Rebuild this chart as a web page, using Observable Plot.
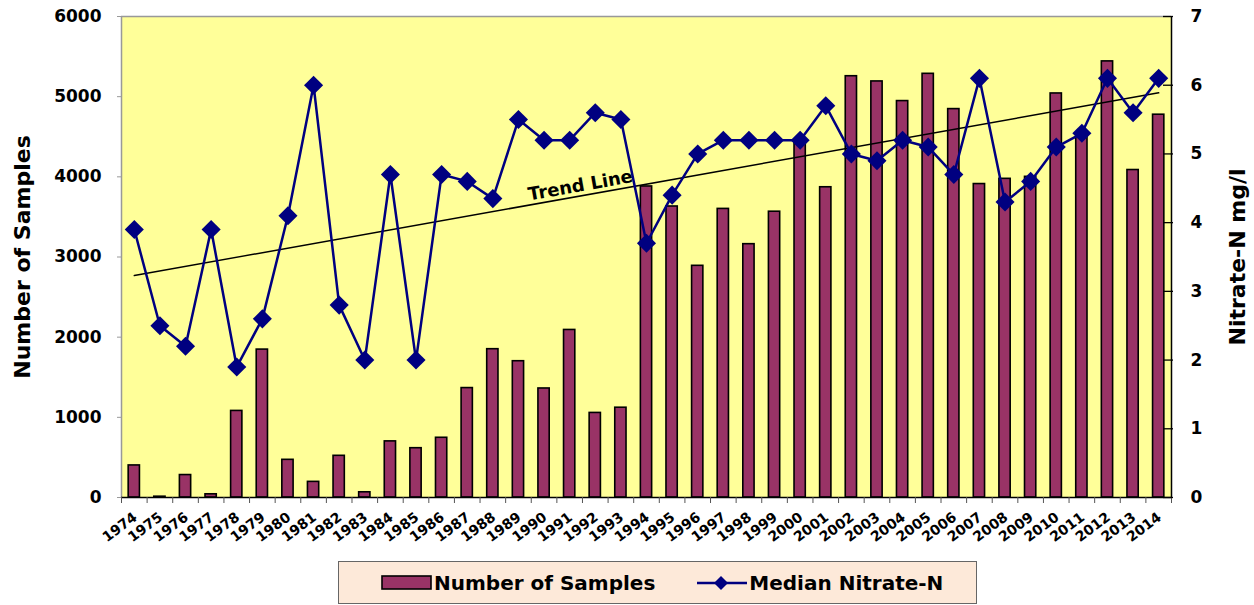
<!DOCTYPE html>
<html>
<head>
<meta charset="utf-8">
<script src="https://cdn.jsdelivr.net/npm/d3@7"></script>
<script src="https://cdn.jsdelivr.net/npm/@observablehq/plot@0.6"></script>
<style>
  html, body { margin: 0; padding: 0; background: white; }
  #wrap { position: relative; width: 1254px; height: 605px; }
  #legend {
    position: absolute; left: 338px; top: 561px; width: 637px; height: 41px;
    background: #FDE9D9; border: 1px solid #666;
    font-family: "DejaVu Sans", sans-serif; font-weight: bold; font-size: 20px; color: black;
    display: flex; align-items: center; box-sizing: content-box;
  }
  #legend svg { display: block; }
</style>
</head>
<body>
<div id="wrap">
  <div id="chart"></div>
  <div id="legend">
    <svg width="52" height="16" style="margin-left:42px"><rect x="1" y="1" width="49" height="13" fill="#993366" stroke="black" stroke-width="1.6"/></svg>
    <span style="margin-left:1px">Number of Samples</span>
    <svg width="50" height="16" style="margin-left:42px"><line x1="0" y1="8" x2="50" y2="8" stroke="#000080" stroke-width="2.5"/><path d="M24,1 L31,8 L24,15 L17,8 Z" fill="#000080"/></svg>
    <span style="margin-left:2px">Median Nitrate-N</span>
  </div>
</div>
<script>
// ---- data ----
const years = [1974, 1975, 1976, 1977, 1978, 1979, 1980, 1981, 1982, 1983,
               1984, 1985, 1986, 1987, 1988, 1989, 1990, 1991, 1992, 1993,
               1994, 1995, 1996, 1997, 1998, 1999, 2000, 2001, 2002, 2003,
               2004, 2005, 2006, 2007, 2008, 2009, 2010, 2011, 2012, 2013,
               2014];
const samples = [400, 10, 280, 40, 1080, 1845, 470, 195, 520, 65,
                 700, 615, 745, 1365, 1850, 1700, 1360, 2090, 1055, 1120,
                 3880, 3630, 2890, 3600, 3160, 3565, 4420, 3870, 5255, 5190,
                 4945, 5285, 4845, 3910, 3975, 4000, 5040, 4500, 5440, 4085,
                 4775];
const nitrate = [3.9, 2.5, 2.2, 3.9, 1.9, 2.6, 4.1, 6.0, 2.8, 2.0,
                 4.7, 2.0, 4.7, 4.6, 4.35, 5.5, 5.2, 5.2, 5.6, 5.5,
                 3.7, 4.4, 5.0, 5.2, 5.2, 5.2, 5.2, 5.7, 5.0, 4.9,
                 5.2, 5.1, 4.7, 6.1, 4.3, 4.6, 5.1, 5.3, 6.1, 5.6,
                 6.1];
const sampleTicks = [0, 1000, 2000, 3000, 4000, 5000, 6000];
const nitrateTicks = [0, 1, 2, 3, 4, 5, 6, 7];
const sampleMax = 6000;
const nitrateMax = 7;
const trendLabel = [{year: 1991.42, value: 4.54, text: "Trend Line"}];

// ---- build ----
const factor = sampleMax / nitrateMax;
const table = years.map((y, i) => ({year: y, samples: samples[i], nitrate: nitrate[i]}));
const xMin = years[0] - 0.5, xMax = years[years.length - 1] + 0.5;
const boundaries = years.map(y => y - 0.5).concat([xMax]);

const chart = Plot.plot({
  width: 1254,
  height: 550,
  marginLeft: 121,
  marginRight: 83,
  marginTop: 16,
  marginBottom: 53,
  x: {type: "linear", domain: [xMin, xMax]},
  y: {domain: [0, sampleMax]},
  style: {fontFamily: "DejaVu Sans, sans-serif", fontWeight: "bold", background: "white", overflow: "visible", color: "black"},
  marks: [
    Plot.frame({fill: "#FFFF99", stroke: null}),
    // bars
    Plot.rectY(table, {x1: d => d.year - 0.22, x2: d => d.year + 0.22, y: "samples",
      fill: "#993366", stroke: "black", strokeWidth: 1.6}),
    // frame edges
    Plot.ruleY([sampleMax], {stroke: "#999", strokeWidth: 1.5}),
    Plot.ruleX([xMin], {stroke: "#999", strokeWidth: 1.5}),
    Plot.ruleX([xMax], {stroke: "black", strokeWidth: 1.5}),
    // trend line
    Plot.linearRegressionY(table, {x: "year", y: d => d.nitrate * factor, stroke: "black", strokeWidth: 1.5, ci: 0}),
    Plot.text(trendLabel, {x: "year", y: d => d.value * factor, text: "text", rotate: -10.1,
      fontSize: 18, fontWeight: "bold", fill: "black"}),
    // nitrate line
    Plot.line(table, {x: "year", y: d => d.nitrate * factor, stroke: "#000080", strokeWidth: 2.5}),
    Plot.dot(table, {x: "year", y: d => d.nitrate * factor, symbol: "diamond2", r: 8.6, fill: "#000080", stroke: null}),
    // baseline
    Plot.ruleY([0], {stroke: "black", strokeWidth: 1.5}),
    // x axis
    Plot.axisX({ticks: boundaries, tickSize: 6, tickFormat: () => "", stroke: "#555", label: null}),
    Plot.axisX({ticks: years, tickSize: 0, tickPadding: 14, tickRotate: -37, tickFormat: d => String(d),
      dy: 4, dx: 1, fontSize: 14, fontWeight: "bold", fill: "black", label: null}),
    // left axis
    Plot.axisY({anchor: "left", ticks: sampleTicks, tickSize: 4, tickPadding: 16, tickFormat: d => String(d),
      stroke: "#999", fill: "black", fontSize: 17, fontWeight: "bold", label: null}),
    Plot.text(["Number of Samples"], {frameAnchor: "left", dx: -99, rotate: -90, textAnchor: "middle",
      fontSize: 22, fontWeight: "bold", fill: "black"}),
    // right axis
    Plot.ruleY(nitrateTicks, {y: d => d * factor, x1: xMax, x2: xMax, insetLeft: -8, insetRight: -2, stroke: "black", strokeWidth: 1.3}),
    Plot.axisY({anchor: "right", ticks: nitrateTicks.map(v => v * factor), tickSize: 0, tickPadding: 19,
      tickFormat: d => String(Math.round(d / factor)),
      fill: "black", fontSize: 17, fontWeight: "bold", label: null}),
    Plot.text(["Nitrate-N mg/l"], {frameAnchor: "right", dx: 66, rotate: -90, textAnchor: "middle",
      fontSize: 22, fontWeight: "bold", fill: "black"})
  ]
});
document.getElementById("chart").appendChild(chart);
</script>
</body>
</html>
